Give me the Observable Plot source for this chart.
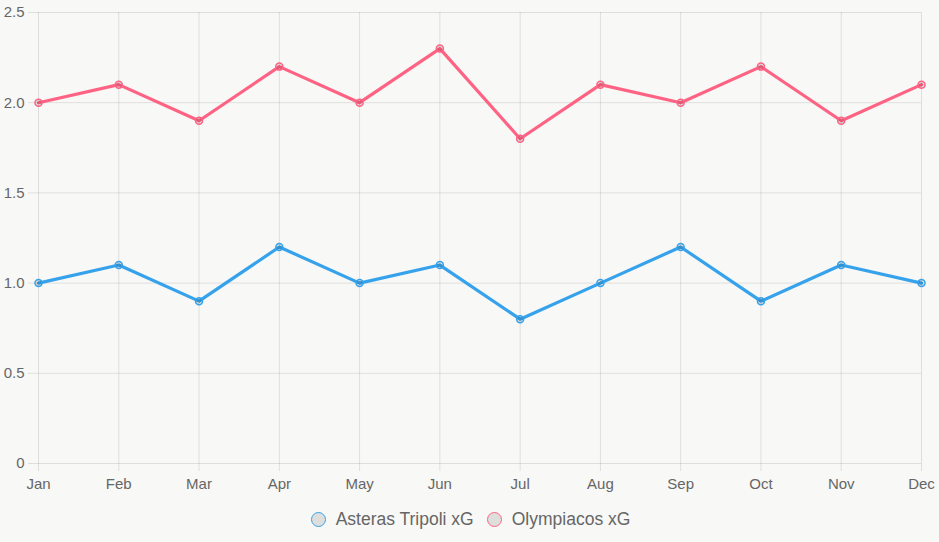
<!DOCTYPE html>
<html>
<head>
<meta charset="utf-8">
<script src="https://cdn.jsdelivr.net/npm/d3@7"></script>
<script src="https://cdn.jsdelivr.net/npm/@observablehq/plot@0.6"></script>
<style>
  html, body { margin: 0; padding: 0; background: #f8f8f6; }
  #chart { width: 939px; font-family: "Liberation Sans", Arial, Helvetica, sans-serif; }
  .legend { height: 42px; display: flex; justify-content: center; align-items: center; gap: 13px; color: #666; font-size: 17.5px; box-sizing: border-box; padding-bottom: 4px; padding-left: 2px; }
  .legend .item { display: flex; align-items: center; gap: 10px; }
  .legend .swatch { width: 13px; height: 13px; border-radius: 50%; background: rgba(0,0,0,0.1); border: 1.5px solid; }
</style>
</head>
<body>
<div id="chart"></div>
<script>
// Monthly expected goals (xG) for both clubs
const months = ["Jan", "Feb", "Mar", "Apr", "May", "Jun", "Jul", "Aug", "Sep", "Oct", "Nov", "Dec"];
const asterasXg = [1.0, 1.1, 0.9, 1.2, 1.0, 1.1, 0.8, 1.0, 1.2, 0.9, 1.1, 1.0];
const olympiacosXg = [2.0, 2.1, 1.9, 2.2, 2.0, 2.3, 1.8, 2.1, 2.0, 2.2, 1.9, 2.1];
const seriesNames = ["Asteras Tripoli xG", "Olympiacos xG"];
const seriesColors = ["rgb(54,162,235)", "rgb(255,99,132)"];
const yTicks = [0, 0.5, 1.0, 1.5, 2.0, 2.5];

const rows = [
  ...months.map((m, i) => ({month: m, xg: asterasXg[i], series: seriesNames[0]})),
  ...months.map((m, i) => ({month: m, xg: olympiacosXg[i], series: seriesNames[1]}))
];

const gridColor = "rgba(0,0,0,0.1)";

const chart = Plot.plot({
  width: 939,
  height: 500,
  marginLeft: 38,
  marginRight: 18,
  marginTop: 12,
  marginBottom: 37,
  style: {background: "transparent", fontFamily: "'Liberation Sans', Arial, Helvetica, sans-serif", fontSize: "15px", color: "#666"},
  x: {type: "point", domain: months, padding: 0, round: false, label: null},
  y: {domain: [0, 2.5], label: null},
  color: {domain: seriesNames, range: seriesColors},
  marks: [
    Plot.gridY(yTicks, {stroke: gridColor, strokeOpacity: 1}),
    Plot.gridX(months, {stroke: gridColor, strokeOpacity: 1}),
    Plot.axisY(yTicks, {tickSize: 10, tickPadding: 4, stroke: gridColor, strokeOpacity: 1, fill: "#666", fontSize: 15,
      tickFormat: d => d === 0 ? "0" : d.toFixed(1), label: null}),
    Plot.axisX(months, {tickSize: 8, tickPadding: 7, stroke: gridColor, strokeOpacity: 1, fill: "#666", fontSize: 15, label: null}),
    Plot.line(rows, {x: "month", y: "xg", z: "series", stroke: "series", strokeWidth: 3.2, curve: "linear"}),
    Plot.dot(rows, {x: "month", y: "xg", stroke: "series", r: 3.5, strokeWidth: 1.5, fill: "rgba(0,0,0,0.1)"})
  ]
});

const root = document.getElementById("chart");
root.appendChild(chart);

const legend = document.createElement("div");
legend.className = "legend";
seriesNames.forEach((name, i) => {
  const item = document.createElement("div");
  item.className = "item";
  const sw = document.createElement("span");
  sw.className = "swatch";
  sw.style.borderColor = seriesColors[i];
  const label = document.createElement("span");
  label.textContent = name;
  item.appendChild(sw);
  item.appendChild(label);
  legend.appendChild(item);
});
root.appendChild(legend);
</script>
</body>
</html>
